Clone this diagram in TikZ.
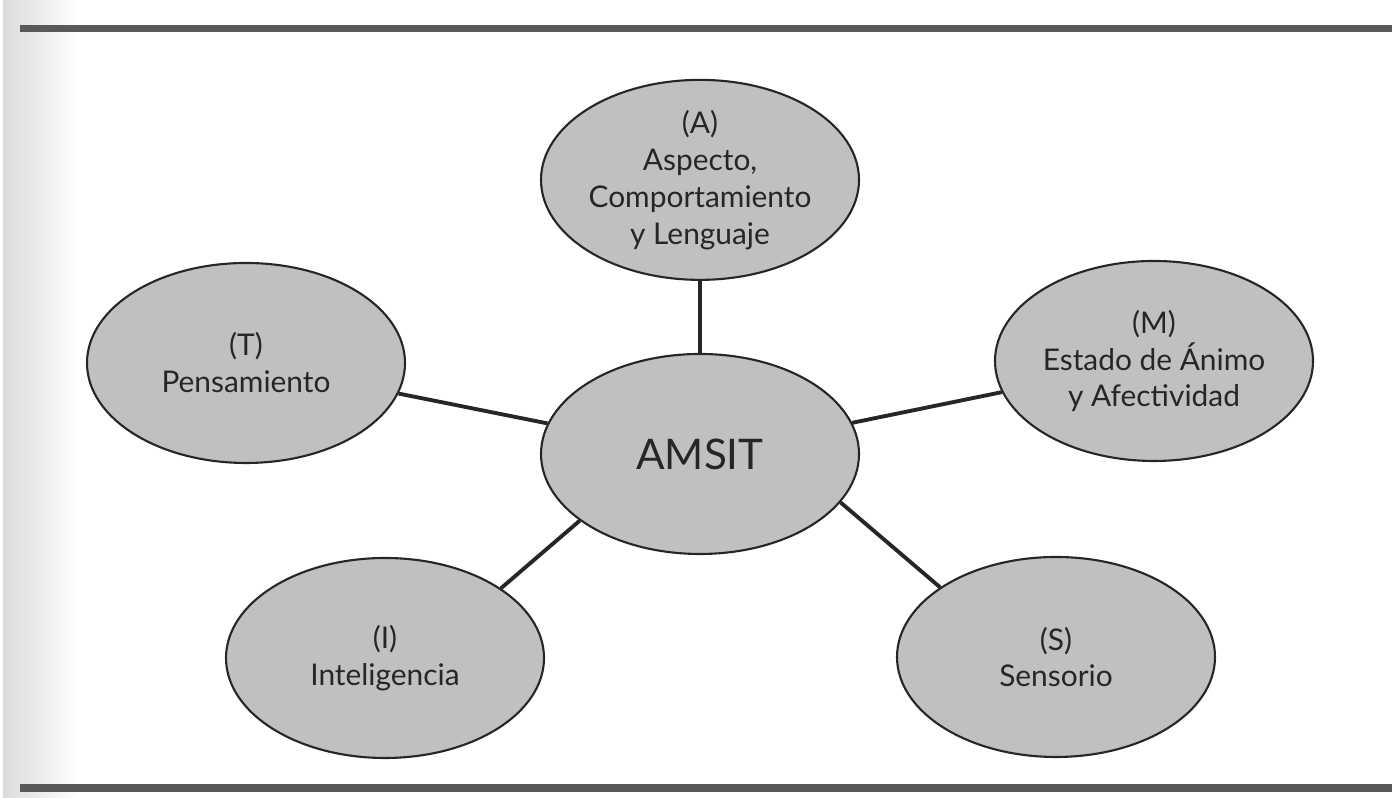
\documentclass[tikz,border=0pt]{standalone}
\usepackage{fontspec}
\setmainfont{Lato}
\usepackage{tikz}
\usetikzlibrary{shapes.geometric, positioning}
\definecolor{ovalgray}{RGB}{192, 192, 192}
\definecolor{inkgray}{RGB}{38, 38, 38}

\begin{document}
\begin{tikzpicture}[
    node distance=0.72cm,
    oval/.style={ellipse, draw=inkgray, line width=0.6pt, fill=ovalgray, minimum width=3.18cm, minimum height=2cm, inner sep=-6pt, align=center, text=inkgray, font=\fontsize{8.5}{10.5}\selectfont},
    link/.style={draw=inkgray, line width=1.1pt},
    rule/.style={draw=black!65, line width=2pt}
]
    \useasboundingbox (0,0) rectangle (13.92,7.98);
    \shade[left color=black!14, right color=white] (0.03,0) rectangle (0.8,7.98);
    \draw[rule] (0.2,7.69) -- (13.92,7.69);
    \draw[rule] (0.2,0.10) -- (13.92,0.10);

    \node[oval, font=\fontsize{12}{14}\selectfont] (amsit) at (7.00,3.44) {AMSIT};
    \node[oval, above=of amsit] (aspecto) {(A)\\Aspecto,\\Comportamiento\\y Lenguaje};
    \node[oval] (pensam) at (2.46,4.35) {(T)\\Pensamiento};
    \node[oval] (animo) at (11.54,4.37) {(M)\\Estado de Ánimo\\y Afectividad};
    \node[oval] (intel) at (3.85,1.40) {(I)\\Inteligencia};
    \node[oval] (sensor) at (10.56,1.41) {(S)\\Sensorio};

    \draw[link] (aspecto) -- (amsit);
    \draw[link] (pensam) -- (amsit);
    \draw[link] (animo) -- (amsit);
    \draw[link] (intel.31) -- (amsit.209);
    \draw[link] (sensor.149) -- (amsit.341);
\end{tikzpicture}
\end{document}
